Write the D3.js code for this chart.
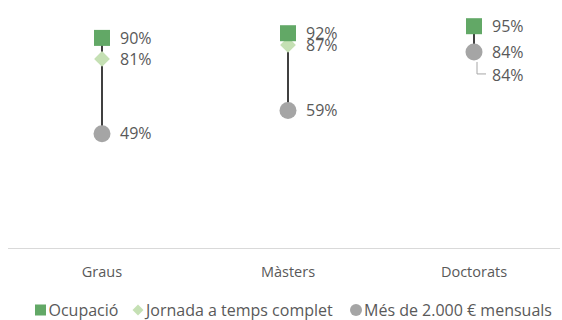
<!DOCTYPE html>
<html>
<head>
<meta charset="utf-8">
<script src="https://cdn.jsdelivr.net/npm/d3@7/dist/d3.min.js"></script>
<style>
  html, body { margin: 0; padding: 0; background: #fff; }
  svg { display: block; font-family: "Open Sans", "Noto Sans", sans-serif; }
</style>
</head>
<body>
<svg id="chart" width="562" height="320"></svg>
<script>
const categories = ["Graus", "Màsters", "Doctorats"];
const ocupacio = [90, 92, 95];
const jornada = [81, 87, 84];
const mes2000 = [49, 59, 84];
const seriesNames = ["Ocupació", "Jornada a temps complet", "Més de 2.000 € mensuals"];

const svg = d3.select("#chart");
const textColor = "#595959";

const x = d3.scaleBand().domain(categories).range([9, 567]);
const y = d3.scaleLinear().domain([0, 100]).range([248.5, 14.5]);
const cx = c => x(c) + x.bandwidth() / 2;

// baseline axis
svg.append("line")
  .attr("x1", 8).attr("x2", 560)
  .attr("y1", y(0)).attr("y2", y(0))
  .attr("stroke", "#d9d9d9").attr("stroke-width", 1);

// category labels
svg.selectAll("text.cat").data(categories).enter().append("text")
  .attr("class", "cat")
  .attr("x", d => cx(d)).attr("y", 272)
  .attr("dy", "0.35em")
  .attr("text-anchor", "middle")
  .attr("font-size", 14.5).attr("fill", textColor)
  .text(d => d);

// high-low range lines
const rows = categories.map((c, i) => ({ c, vals: [ocupacio[i], jornada[i], mes2000[i]] }));
svg.selectAll("line.range").data(rows).enter().append("line")
  .attr("class", "range")
  .attr("x1", d => cx(d.c)).attr("x2", d => cx(d.c))
  .attr("y1", d => y(d3.max(d.vals))).attr("y2", d => y(d3.min(d.vals)))
  .attr("stroke", "#404040").attr("stroke-width", 2);

const squareColor = "#62a866";
const diamondColor = "#c5e0b4";
const circleColor = "#a5a5a5";

// Jornada a temps complet (diamonds)
svg.selectAll("path.dia").data(categories).enter().append("path")
  .attr("class", "dia")
  .attr("transform", (d, i) => `translate(${cx(d)},${y(jornada[i])}) rotate(45)`)
  .attr("d", d3.symbol().type(d3.symbolSquare).size(125))
  .attr("fill", diamondColor);

// Més de 2.000 € (circles)
svg.selectAll("circle.mes").data(categories).enter().append("circle")
  .attr("class", "mes")
  .attr("cx", d => cx(d)).attr("cy", (d, i) => y(mes2000[i]))
  .attr("r", 8.5).attr("fill", circleColor);

// Ocupació (squares)
svg.selectAll("rect.ocu").data(categories).enter().append("rect")
  .attr("class", "ocu")
  .attr("x", d => cx(d) - 8).attr("y", (d, i) => y(ocupacio[i]) - 8)
  .attr("width", 16).attr("height", 16)
  .attr("fill", squareColor);

// data labels
function labels(vals, cls, dyFn) {
  svg.selectAll("text." + cls).data(categories).enter().append("text")
    .attr("class", cls)
    .attr("x", d => cx(d) + 18)
    .attr("y", (d, i) => y(vals[i]) + dyFn(i))
    .attr("dy", "0.35em")
    .attr("font-size", 16).attr("fill", textColor)
    .text((d, i) => vals[i] + "%");
}
labels(ocupacio, "lo", () => 0);
labels(mes2000, "lm", () => 0);
// Doctorats' Jornada label is moved below its hidden marker
labels(jornada, "lj", i => i === 2 ? 23 : 0);

// leader line for the moved label
const dx = cx("Doctorats");
const dy = y(jornada[2]);
svg.append("path")
  .attr("d", `M${dx + 3},${dy + 10} V${dy + 22} H${dx + 12}`)
  .attr("fill", "none").attr("stroke", "#a6a6a6").attr("stroke-width", 1);

// legend
const legend = svg.append("g").attr("transform", "translate(0,310)");
const items = [
  { name: seriesNames[0], x: 40.5, shape: "square", color: squareColor },
  { name: seriesNames[1], x: 138, shape: "diamond", color: diamondColor },
  { name: seriesNames[2], x: 356, shape: "circle", color: circleColor }
];
items.forEach(it => {
  if (it.shape === "square") {
    legend.append("rect").attr("x", it.x - 5.5).attr("y", -5.5).attr("width", 11).attr("height", 11).attr("fill", it.color);
  } else if (it.shape === "diamond") {
    legend.append("path").attr("transform", `translate(${it.x},0) rotate(45)`)
      .attr("d", d3.symbol().type(d3.symbolSquare).size(60)).attr("fill", it.color);
  } else {
    legend.append("circle").attr("cx", it.x).attr("cy", 0).attr("r", 6).attr("fill", it.color);
  }
  legend.append("text").attr("x", it.x + 8).attr("y", 0).attr("dy", "0.35em")
    .attr("font-size", 16).attr("fill", textColor).text(it.name);
});
</script>
</body>
</html>
